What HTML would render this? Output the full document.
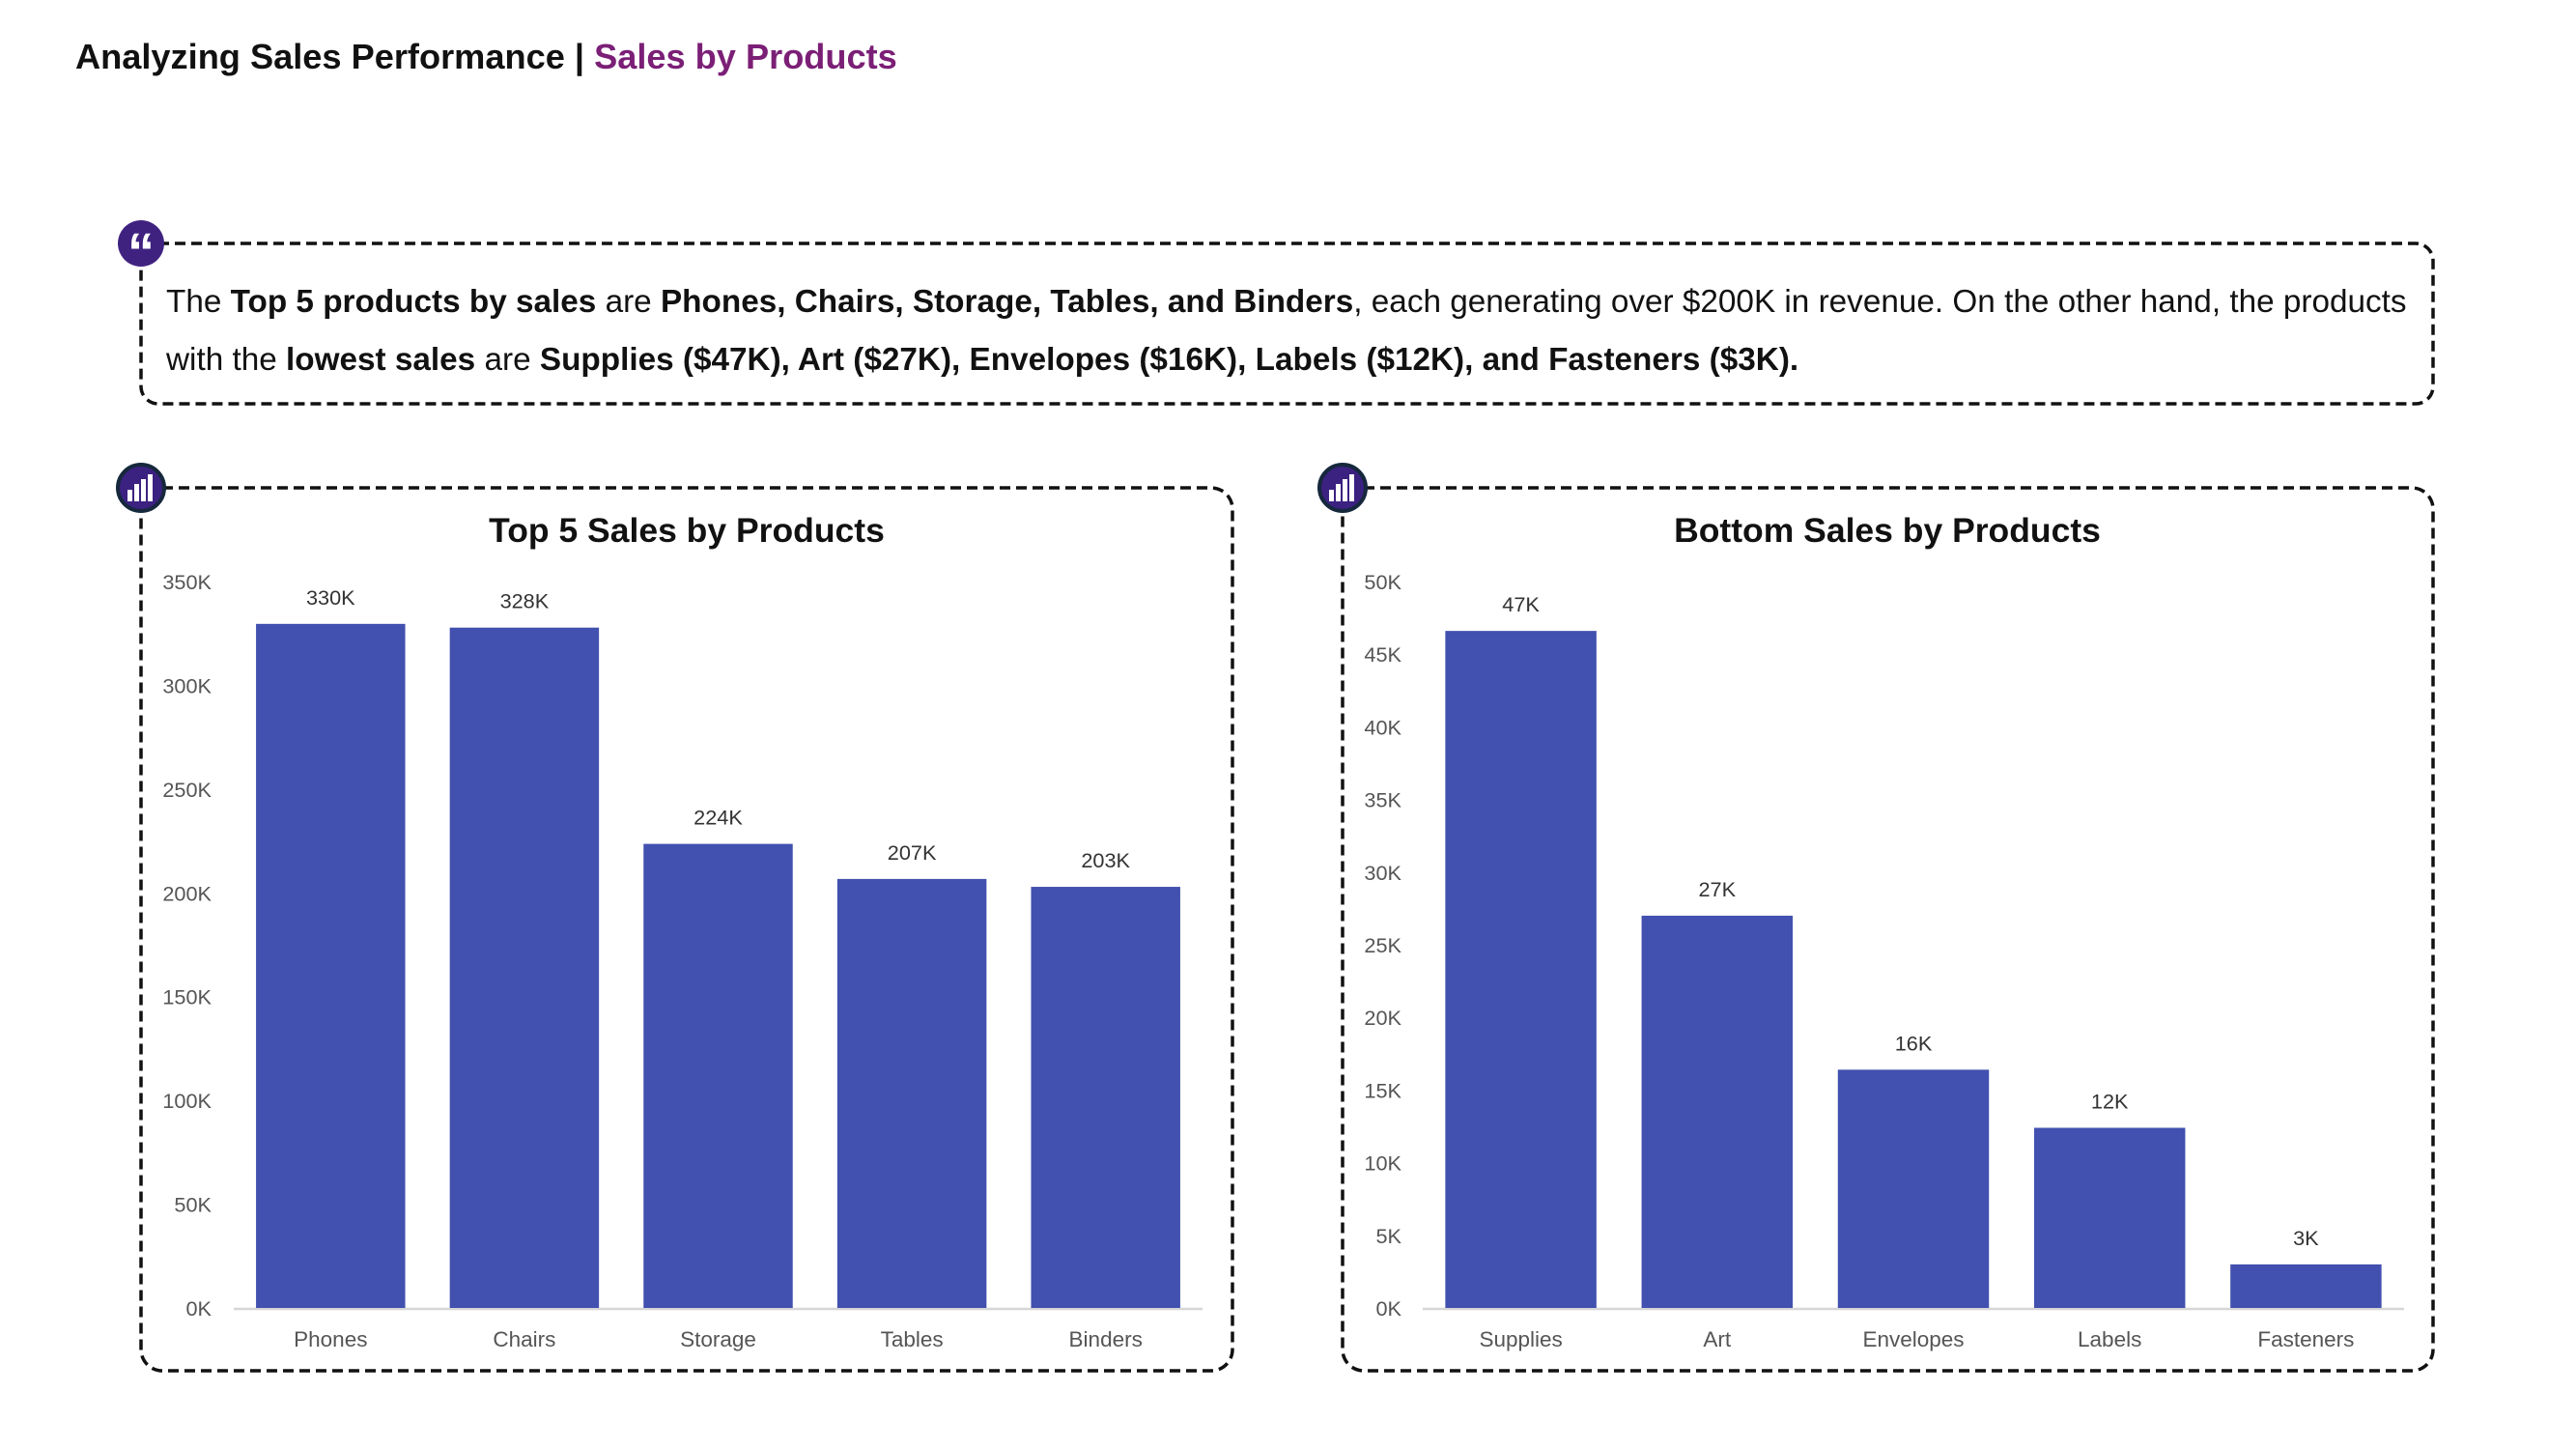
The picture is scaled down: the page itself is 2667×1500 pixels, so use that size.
<!DOCTYPE html>
<html><head><meta charset="utf-8">
<style>
html,body{margin:0;padding:0;background:#fff;}
svg{display:block;}
text{font-family:"Liberation Sans",Arial,sans-serif;}
</style></head>
<body>
<svg id="root" width="2667" height="1500" viewBox="0 0 2667 1500" xmlns="http://www.w3.org/2000/svg">
  <text x="78" y="71" font-size="36.2" font-weight="bold" fill="#111">Analyzing Sales Performance | <tspan fill="#7B1F76">Sales by Products</tspan></text>

  <rect x="146" y="252" width="2373" height="166" rx="18" fill="none" stroke="#111" stroke-width="3.5" stroke-dasharray="11,6"/>
  <g>
    <circle cx="146" cy="252" r="24" fill="#3F2280"/>
    <text x="146" y="280" font-size="56" font-weight="bold" fill="#fff" text-anchor="middle" font-family="Liberation Serif">“</text>
  </g>
  <text x="172" y="323" font-size="33.3" fill="#111">The <tspan font-weight="bold">Top 5 products by sales</tspan> are <tspan font-weight="bold">Phones, Chairs, Storage, Tables, and Binders</tspan>, each generating over $200K in revenue. On the other hand, the products</text>
  <text x="172" y="383" font-size="33.3" fill="#111">with the <tspan font-weight="bold">lowest sales</tspan> are <tspan font-weight="bold">Supplies ($47K), Art ($27K), Envelopes ($16K), Labels ($12K), and Fasteners ($3K).</tspan></text>

  <rect x="146" y="505" width="1130" height="914" rx="22" fill="none" stroke="#111" stroke-width="3.5" stroke-dasharray="11,6"/>
  <rect x="1390" y="505" width="1129" height="914" rx="22" fill="none" stroke="#111" stroke-width="3.5" stroke-dasharray="11,6"/>

  <g>
    <circle cx="146" cy="505" r="24" fill="#3B2180" stroke="#16283c" stroke-width="4"/>
    <rect x="132" y="507" width="5" height="12" fill="#fff"/><rect x="139" y="501" width="5" height="18" fill="#fff"/><rect x="146" y="496" width="5" height="23" fill="#fff"/><rect x="153" y="491" width="5" height="28" fill="#fff"/>
  </g>
  <g>
    <circle cx="1390" cy="505" r="24" fill="#3B2180" stroke="#16283c" stroke-width="4"/>
    <rect x="1376" y="507" width="5" height="12" fill="#fff"/><rect x="1383" y="501" width="5" height="18" fill="#fff"/><rect x="1390" y="496" width="5" height="23" fill="#fff"/><rect x="1397" y="491" width="5" height="28" fill="#fff"/>
  </g>

  <text x="711" y="561" font-size="35.5" font-weight="bold" fill="#111" text-anchor="middle">Top 5 Sales by Products</text>
  <text x="1954" y="561" font-size="35.5" font-weight="bold" fill="#111" text-anchor="middle">Bottom Sales by Products</text>

  <g id="chartA"></g>
  <g id="chartB"></g>
</svg>
<script>
const topCategories = ["Phones","Chairs","Storage","Tables","Binders"];
const topValues = [329.6, 327.8, 223.6, 206.7, 202.9];
const topTicks = [0,50,100,150,200,250,300,350];
const bottomCategories = ["Supplies","Art","Envelopes","Labels","Fasteners"];
const bottomValues = [46.6, 27.0, 16.4, 12.4, 3.0];
const bottomTicks = [0,5,10,15,20,25,30,35,40,45,50];

const NS = "http://www.w3.org/2000/svg";
function mk(tag, attrs, parent, txt){
  const e = document.createElementNS(NS, tag);
  for (const k in attrs) e.setAttribute(k, attrs[k]);
  if (txt !== undefined) e.textContent = txt;
  parent.appendChild(e);
  return e;
}
function drawChart(g, prefix, cats, vals, ticks, cfg){
  const max = ticks[ticks.length-1];
  const y = v => cfg.y0 - (v / max) * (cfg.y0 - cfg.yTop);
  const step = (cfg.x1 - cfg.x0) / cats.length;
  const x = i => cfg.x0 + step * i + step / 2;
  const bw = step * 0.77;
  ticks.forEach(t => {
    const tl = mk("text", {x: cfg.tickX, y: y(t) + 8, "font-size": 21.7, fill: "#555", "text-anchor": "end"}, g, t + "K");
    
    
  });
  const ax = mk("line", {x1: cfg.x0, x2: cfg.x1, y1: cfg.y0 + 1, y2: cfg.y0 + 1, stroke: "#d6d6d6", "stroke-width": 2.5}, g);
  
  
  cats.forEach((c, i) => {
    const v = vals[i];
    const b = mk("rect", {x: x(i) - bw/2, y: y(v), width: bw, height: cfg.y0 - y(v), fill: "#4250AF"}, g);
    
    
    const lbl = mk("text", {x: x(i), y: y(v) - 20, "font-size": 21.7, fill: "#333", "text-anchor": "middle"}, g, Math.round(v) + "K");
    
    
    const cl = mk("text", {x: x(i), y: cfg.y0 + 40, "font-size": 22.5, fill: "#555", "text-anchor": "middle"}, g, c);
    
    
  });
}
drawChart(document.getElementById("chartA"), "top", topCategories, topValues, topTicks,
  {x0: 242, x1: 1245, y0: 1354, yTop: 602, tickX: 219});
drawChart(document.getElementById("chartB"), "bottom", bottomCategories, bottomValues, bottomTicks,
  {x0: 1473, x1: 2489, y0: 1354, yTop: 602, tickX: 1451});
</script>
</body></html>
